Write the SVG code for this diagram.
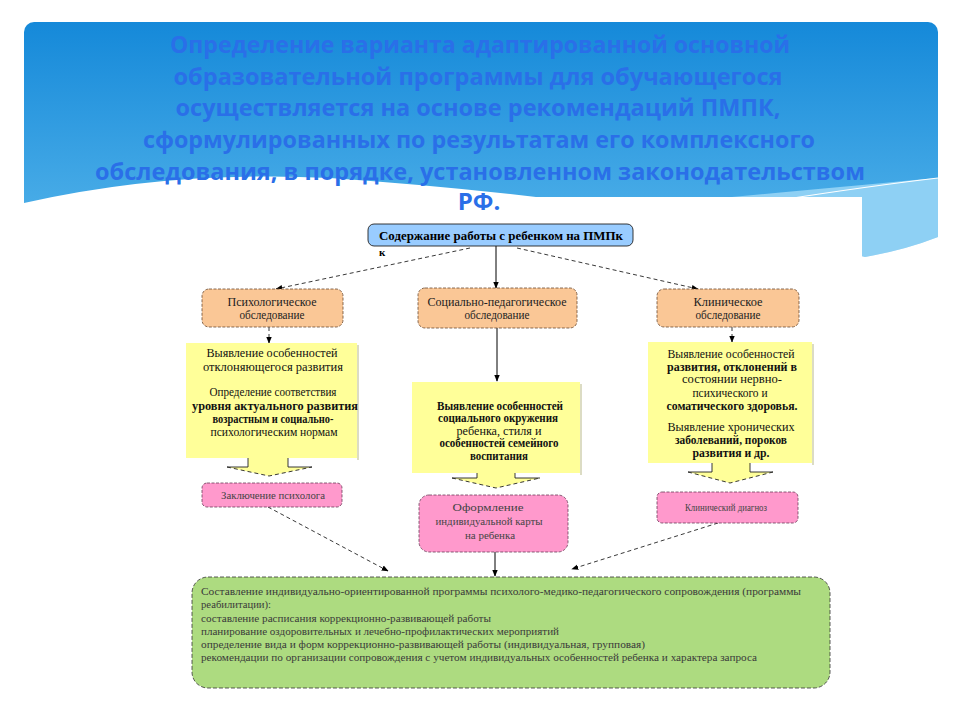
<svg xmlns="http://www.w3.org/2000/svg" width="960" height="720" viewBox="0 0 960 720">
<defs>
<linearGradient id="bg" x1="0" y1="0" x2="0" y2="1">
<stop offset="0" stop-color="#1589d9"/>
<stop offset="1" stop-color="#5ab8ec"/>
</linearGradient>
<marker id="ah" viewBox="0 0 10 10" refX="9" refY="5" markerWidth="7" markerHeight="7" orient="auto" markerUnits="userSpaceOnUse">
<path d="M0,1 L10,5 L0,9 Z" fill="#000"/>
</marker>
<style>
.title{font-family:"Open Sans","DejaVu Sans",sans-serif;font-weight:bold;font-size:24px;fill:#2a6fe8;text-anchor:middle}
.t{font-family:"Liberation Serif","Times New Roman",serif;font-size:11.5px;fill:#111;text-anchor:middle}
.b{font-weight:bold}
.s{font-family:"Liberation Serif","Times New Roman",serif;font-size:11.5px;fill:#222;text-anchor:middle}
.p{font-family:"Liberation Serif","Times New Roman",serif;font-size:11px;fill:#444;text-anchor:middle}
.g{font-family:"Liberation Serif","Times New Roman",serif;font-size:10px;fill:#3a3a3a}
.orange{fill:#fac796;stroke:#6b4a30;stroke-width:0.8;stroke-dasharray:3 1.5}
.pink{fill:#ff99cc;stroke:#6b3a58;stroke-width:0.8;stroke-dasharray:3 1.5}
.yellow{fill:#ffff99}
.shadow{fill:#dcdcc4}
.edge{stroke:#222;stroke-width:0.9;fill:none}
.dash{stroke:#222;stroke-width:0.9;fill:none;stroke-dasharray:4 3}
.solid{stroke:#000;stroke-width:1;fill:none}
</style>
</defs>
<rect x="0" y="0" width="960" height="720" fill="#fff"/>
<!-- slide header -->
<rect x="24" y="22" width="914" height="250" rx="10" fill="url(#bg)"/>
<path d="M700,200 Q850,186 938,178 L938,237 Q905,250 865,257 Q780,232 700,215 Z" fill="#8ed0f4"/>
<path d="M24,203 Q170,170 330,178 Q650,200 865,257 Q905,250 938,237 L938,300 L24,300 Z" fill="#fff"/>
<path d="M780,200 Q870,186 938,178" stroke="#fff" stroke-width="1.2" fill="none"/>
<rect x="148" y="197" width="714" height="503" fill="#fff"/>
<g id="title">
<text class="title" x="480" y="53" textLength="620" lengthAdjust="spacingAndGlyphs">Определение варианта адаптированной основной</text>
<text class="title" x="478" y="85" textLength="609" lengthAdjust="spacingAndGlyphs">образовательной программы для обучающегося</text>
<text class="title" x="478" y="116" textLength="605" lengthAdjust="spacingAndGlyphs">осуществляется на основе рекомендаций ПМПК,</text>
<text class="title" x="479" y="148" textLength="672" lengthAdjust="spacingAndGlyphs">сформулированных по результатам его комплексного</text>
<text class="title" x="480" y="180" textLength="770" lengthAdjust="spacingAndGlyphs">обследования, в порядке, установленном законодательством</text>
<text class="title" x="479" y="210">РФ.</text>
</g>
<g id="connectors">
<line class="dash" x1="470" y1="248" x2="276" y2="289" marker-end="url(#ah)"/>
<line class="solid" x1="496" y1="245" x2="496" y2="288" marker-end="url(#ah)"/>
<line class="dash" x1="517" y1="248" x2="698" y2="289" marker-end="url(#ah)"/>
<line class="dash" x1="269" y1="327" x2="269" y2="343" marker-end="url(#ah)"/>
<line class="solid" x1="497" y1="328" x2="497" y2="381" marker-end="url(#ah)"/>
<line class="dash" x1="732" y1="327" x2="732" y2="342" marker-end="url(#ah)"/>
<line class="dash" x1="268" y1="507" x2="388" y2="571" marker-end="url(#ah)"/>
<line class="solid" x1="495" y1="552" x2="495" y2="576" marker-end="url(#ah)"/>
<line class="dash" x1="718" y1="523" x2="572" y2="569" marker-end="url(#ah)"/>
</g>
<g id="top">
<rect x="368" y="224" width="265" height="22" rx="6" fill="#99ccff" stroke="#222" stroke-width="0.9"/>
<text x="501" y="240" font-family="Liberation Serif,serif" font-weight="bold" font-size="12.5" text-anchor="middle" textLength="244" lengthAdjust="spacingAndGlyphs" fill="#000">Содержание работы с ребенком на ПМПк</text>
<text x="379" y="256" font-family="Liberation Serif,serif" font-weight="bold" font-size="11" fill="#000">к</text>
</g>
<g id="psych">
<rect class="orange" x="202" y="289" width="141" height="38" rx="7"/>
<text class="s" x="272" y="306" textLength="89" lengthAdjust="spacingAndGlyphs">Психологическое</text>
<text class="s" x="272" y="319" textLength="65" lengthAdjust="spacingAndGlyphs">обследование</text>
</g>
<g id="social">
<rect class="orange" x="418" y="288" width="159" height="40" rx="7"/>
<text class="s" x="497" y="306" textLength="139" lengthAdjust="spacingAndGlyphs">Социально-педагогическое</text>
<text class="s" x="497" y="319" textLength="65" lengthAdjust="spacingAndGlyphs">обследование</text>
</g>
<g id="clinic">
<rect class="orange" x="657" y="289" width="142" height="38" rx="7"/>
<text class="s" x="728" y="306" textLength="69" lengthAdjust="spacingAndGlyphs">Клиническое</text>
<text class="s" x="728" y="319" textLength="65" lengthAdjust="spacingAndGlyphs">обследование</text>
</g>
<g id="psych-detail">
<rect class="shadow" x="357" y="345" width="2" height="115"/>
<path class="yellow" d="M186,343 H357 V458 H288 V467 H312 L269,476 L227,467 H248 V458 H186 Z"/>
<path class="edge" d="M227,467 H248 V458 M288,458 V467 H312"/>
<path class="dash" d="M227,467 L269,476 L312,467"/>
<text class="t" x="272" y="357" textLength="131" lengthAdjust="spacingAndGlyphs">Выявление особенностей</text>
<text class="t" x="273" y="371" textLength="140" lengthAdjust="spacingAndGlyphs">отклоняющегося развития</text>
<text class="t" x="273" y="396" textLength="127" lengthAdjust="spacingAndGlyphs">Определение соответствия</text>
<text class="t b" x="275" y="410" textLength="166" lengthAdjust="spacingAndGlyphs">уровня актуального развития</text>
<text class="t b" x="273" y="423" textLength="121" lengthAdjust="spacingAndGlyphs">возрастным и социально-</text>
<text class="t" x="274" y="436" textLength="127" lengthAdjust="spacingAndGlyphs">психологическим нормам</text>
</g>
<g id="social-detail">
<rect class="shadow" x="580" y="384" width="2" height="91"/>
<path class="yellow" d="M412,382 H580 V473 H515 V478 H540 L496,488 L452,478 H477 V473 H412 Z"/>
<path class="edge" d="M452,478 H477 V473 M515,473 V478 H540"/>
<path class="dash" d="M452,478 L496,488 L540,478"/>
<text class="t b" x="500" y="410" textLength="126" lengthAdjust="spacingAndGlyphs">Выявление особенностей</text>
<text class="t b" x="498" y="422" textLength="120" lengthAdjust="spacingAndGlyphs">социального окружения</text>
<text class="t" x="499" y="435" textLength="85" lengthAdjust="spacingAndGlyphs">ребенка, стиля и</text>
<text class="t b" x="499" y="447" textLength="119" lengthAdjust="spacingAndGlyphs">особенностей семейного</text>
<text class="t b" x="499" y="460" textLength="58" lengthAdjust="spacingAndGlyphs">воспитания</text>
</g>
<g id="clinic-detail">
<rect class="shadow" x="812" y="344" width="2" height="121"/>
<path class="yellow" d="M648,342 H812 V463 H750 V472 H773 L730,483 L688,472 H712 V463 H648 Z"/>
<path class="edge" d="M688,472 H712 V463 M750,463 V472 H773"/>
<path class="dash" d="M688,472 L730,483 L773,472"/>
<text class="t" x="731" y="358" textLength="127" lengthAdjust="spacingAndGlyphs">Выявление особенностей</text>
<text class="t b" x="732" y="371" textLength="130" lengthAdjust="spacingAndGlyphs">развития, отклонений в</text>
<text class="t" x="732" y="383" textLength="100" lengthAdjust="spacingAndGlyphs">состоянии нервно-</text>
<text class="t" x="730" y="397" textLength="75" lengthAdjust="spacingAndGlyphs">психического и</text>
<text class="t b" x="732" y="410" textLength="131" lengthAdjust="spacingAndGlyphs">соматического здоровья.</text>
<text class="t" x="731" y="431" textLength="127" lengthAdjust="spacingAndGlyphs">Выявление хронических</text>
<text class="t b" x="731" y="444" textLength="112" lengthAdjust="spacingAndGlyphs">заболеваний, пороков</text>
<text class="t b" x="731" y="457" textLength="77" lengthAdjust="spacingAndGlyphs">развития и др.</text>
</g>
<g id="psych-result">
<rect class="pink" x="202" y="483" width="140" height="24" rx="5"/>
<text class="p" x="273" y="499" textLength="104" lengthAdjust="spacingAndGlyphs">Заключение психолога</text>
</g>
<g id="social-result">
<rect class="pink" x="419" y="495" width="149" height="57" rx="10"/>
<text class="p" x="488" y="511" textLength="71" lengthAdjust="spacingAndGlyphs">Оформление</text>
<text class="p" x="489" y="525" textLength="107" lengthAdjust="spacingAndGlyphs">индивидуальной карты</text>
<text class="p" x="490" y="539" textLength="50" lengthAdjust="spacingAndGlyphs">на ребенка</text>
</g>
<g id="clinic-result">
<rect class="pink" x="657" y="492" width="141" height="31" rx="5"/>
<text class="p" x="726" y="511" textLength="82" lengthAdjust="spacingAndGlyphs">Клинический диагноз</text>
</g>
<g id="program">
<rect x="192" y="577" width="638" height="111" rx="16" fill="#addb80" stroke="#333" stroke-width="0.8" stroke-dasharray="4 2"/>
<text class="g" x="201" y="595" textLength="600" lengthAdjust="spacingAndGlyphs">Составление индивидуально-ориентированной программы психолого-медико-педагогического сопровождения (программы</text>
<text class="g" x="201" y="608" textLength="70" lengthAdjust="spacingAndGlyphs">реабилитации):</text>
<text class="g" x="201" y="622" textLength="290" lengthAdjust="spacingAndGlyphs">составление расписания коррекционно-развивающей работы</text>
<text class="g" x="201" y="635" textLength="358" lengthAdjust="spacingAndGlyphs">планирование оздоровительных и лечебно-профилактических мероприятий</text>
<text class="g" x="201" y="648" textLength="444" lengthAdjust="spacingAndGlyphs">определение вида и форм коррекционно-развивающей работы (индивидуальная, групповая)</text>
<text class="g" x="201" y="661" textLength="556" lengthAdjust="spacingAndGlyphs">рекомендации по организации сопровождения с учетом индивидуальных особенностей ребенка и характера запроса</text>
</g>
</svg>
